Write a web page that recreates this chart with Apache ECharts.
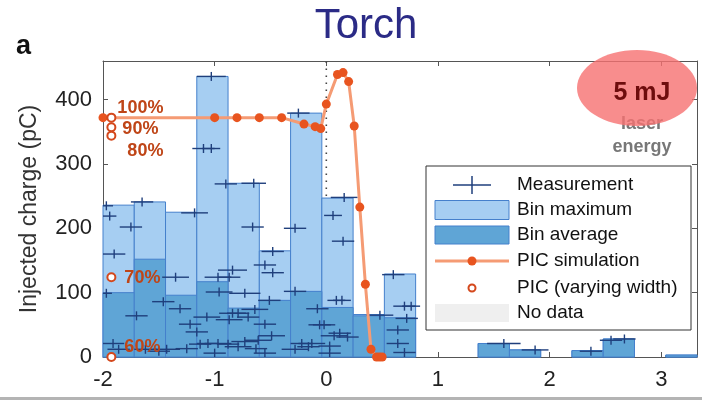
<!DOCTYPE html>
<html>
<head>
<meta charset="utf-8">
<script src="https://cdn.jsdelivr.net/npm/echarts@6/dist/echarts.min.js"></script>
<style>
  html, body { margin: 0; padding: 0; background: #fff; }
  #chart { width: 702px; height: 400px; }
</style>
</head>
<body>
<div id="chart"></div>
<script>
// Injection phase bins (width 0.28, starting at -2)
const binStart = -2;
const binWidth = 0.28;
const binMax = [236, 241, 225, 436, 270, 165, 379, 247, 66, 129, null, null, 21, 11, null, 10, 28, null, 3];
const binAvg = [100, 152, 96, 117, 76, 88, 102, 77, 64, 61, null, null, 21, 11, null, 10, 28, null, 3];

// Individual shots: centre x, charge, half width of the horizontal bar
const measX = [-1.97, -1.94, -1.75, -1.90, -1.97, -1.70, -1.91, -1.86, -1.65, -1.62, -1.50,
  -1.18, -1.35, -1.46, -1.31, -1.22, -1.16, -1.13, -1.43, -1.25,
  -1.03, -1.10, -1.03, -0.90, -0.65, -0.25,
  -0.97, -0.87, -0.84, -0.96, -0.73, -1.07, -0.84, -0.79, -0.87, -0.70, -0.64,
  -0.66, -0.48, -0.55, -0.48, -0.51, -0.55, -0.49, -0.61, -0.73, -0.97, -1.06, -0.79, -0.63, -0.55, -1.00, -0.88,
  -0.28, -0.28, -0.08, -0.06, -0.13, -0.22, -0.28, -0.16,
  0.06, 0.15, 0.16, 0.09, 0.14, -0.02, 0.12, 0.07, 0.03, 0.19, 0.03,
  0.48, 0.60, 0.70, 0.76, 0.72, 0.64, 0.64, 0.70,
  1.59, 1.87, 2.37, 2.55, 2.67];
const measY = [235, 219, 202, 160, 99, 64, 21, 12, 241, 12, 9,
  224, 124, 86, 75, 51, 39, 20, 12, 13,
  436, 324, 324, 269, 270, 379,
  124, 124, 135, 101, 99, 62, 68, 68, 58, 62, 74,
  202, 164, 143, 131, 88, 51, 33, 26, 24, 21, 21, 16, 13, 6, 6, 20,
  200, 102, 75, 50, 21, 21, 12, 16,
  220, 180, 248, 88, 88, 50, 37, 33, 17, 31, 6,
  65, 128, 79, 79, 60, 42, 21, 7,
  21, 11, 9, 26, 28];
const measHalf = [0.06, 0.06, 0.1, 0.1, 0.05, 0.1, 0.1, 0.1, 0.1, 0.1, 0.1,
  0.12, 0.12, 0.1, 0.1, 0.1, 0.1, 0.1, 0.12, 0.1,
  0.13, 0.1, 0.08, 0.1, 0.11, 0.1,
  0.12, 0.1, 0.13, 0.12, 0.14, 0.12, 0.12, 0.1, 0.12, 0.1, 0.12,
  0.1, 0.1, 0.1, 0.1, 0.1, 0.1, 0.12, 0.12, 0.12, 0.12, 0.1, 0.12, 0.1, 0.1, 0.1, 0.1,
  0.1, 0.1, 0.1, 0.1, 0.12, 0.1, 0.12, 0.1,
  0.08, 0.1, 0.12, 0.08, 0.08, 0.1, 0.1, 0.12, 0.1, 0.1, 0.1,
  0.12, 0.1, 0.1, 0.08, 0.1, 0.1, 0.1, 0.1,
  0.15, 0.12, 0.1, 0.1, 0.1];

// PIC simulation curve
const picX = [-2, -1, -0.8, -0.6, -0.4, -0.2, -0.1, -0.05, 0, 0.1, 0.15, 0.2, 0.25, 0.3, 0.35, 0.4, 0.45, 0.475, 0.5];
const picY = [372, 372, 372, 372, 372, 362, 358, 355, 393, 439, 442, 428, 359, 233, 113, 12, 0, 0, 0];

// PIC runs with varying laser spot width
const widthX = [-1.925, -1.925, -1.925, -1.925, -1.925];
const widthY = [372, 357, 344, 124, 0];
const widthLabels = ['100%', '90%', '80%', '70%', '60%'];
const widthLabelOffsets = [[1, -10], [6, 2], [11, 15], [8, 1], [8, -10]];

const xTicks = [-2, -1, 0, 1, 2, 3];
const yTicks = [0, 100, 200, 300, 400];

const FONT = '"Liberation Sans", Arial, Helvetica, sans-serif';
const LIGHT = '#a6cef2';
const DARK = '#5fa5d6';
const EDGE = '#4580cc';
const CROSS = '#1f3f7c';
const SIM_LINE = '#f59b74';
const SIM_DOT = '#e8541f';
const WIDTH_RED = '#d4481c';
const LABEL_RED = '#bf4517';

function binData(values) {
  const out = [];
  values.forEach((v, i) => {
    if (v != null) out.push([binStart + i * binWidth, binStart + (i + 1) * binWidth, v]);
  });
  return out;
}

function barRenderer(fill) {
  return function (params, api) {
    const p0 = api.coord([api.value(0), api.value(2)]);
    const p1 = api.coord([api.value(1), 0]);
    return {
      type: 'rect',
      shape: { x: p0[0], y: p0[1], width: p1[0] - p0[0], height: p1[1] - p0[1] },
      style: { fill: fill, stroke: EDGE, lineWidth: 1 }
    };
  };
}

const measData = measX.map((x, i) => [x, measY[i], measHalf[i]]);

function crossRenderer(params, api) {
  const x = api.value(0), y = api.value(1), h = api.value(2);
  const c = api.coord([x, y]);
  const a = api.coord([x - h, y]);
  const b = api.coord([x + h, y]);
  return {
    type: 'group',
    children: [
      { type: 'line', shape: { x1: a[0], y1: c[1], x2: b[0], y2: c[1] }, style: { stroke: CROSS, lineWidth: 1.4 } },
      { type: 'line', shape: { x1: c[0], y1: c[1] - 4.5, x2: c[0], y2: c[1] + 4.5 }, style: { stroke: CROSS, lineWidth: 1.4 } }
    ]
  };
}

const axisLineStyle = { color: '#555', width: 1 };

// Legend block
const LG = { left: 426, top: 166, right: 691, bottom: 330, textX: 517, symX: 435, symW: 74 };
const legendRows = [185, 210, 235, 261, 288, 313];
const legendNames = ['Measurement', 'Bin maximum', 'Bin average', 'PIC simulation', 'PIC (varying width)', 'No data'];
const legendGraphics = [
  { type: 'rect', shape: { x: LG.left, y: LG.top, width: LG.right - LG.left, height: LG.bottom - LG.top },
    style: { fill: '#fff', stroke: '#333', lineWidth: 1 }, z: 100 },
  { type: 'line', shape: { x1: 453, y1: legendRows[0], x2: 491, y2: legendRows[0] }, style: { stroke: CROSS, lineWidth: 1.5 }, z: 101 },
  { type: 'line', shape: { x1: 472, y1: legendRows[0] - 9, x2: 472, y2: legendRows[0] + 9 }, style: { stroke: CROSS, lineWidth: 1.5 }, z: 101 },
  { type: 'rect', shape: { x: LG.symX, y: legendRows[1] - 9.5, width: LG.symW, height: 19 }, style: { fill: LIGHT, stroke: EDGE, lineWidth: 1 }, z: 101 },
  { type: 'rect', shape: { x: LG.symX, y: legendRows[2] - 9, width: LG.symW, height: 18 }, style: { fill: DARK, stroke: EDGE, lineWidth: 1 }, z: 101 },
  { type: 'line', shape: { x1: LG.symX, y1: legendRows[3], x2: LG.symX + LG.symW, y2: legendRows[3] }, style: { stroke: SIM_LINE, lineWidth: 3 }, z: 101 },
  { type: 'circle', shape: { cx: 472, cy: legendRows[3], r: 4.5 }, style: { fill: SIM_DOT }, z: 102 },
  { type: 'circle', shape: { cx: 472, cy: legendRows[4], r: 3.5 }, style: { fill: '#fff', stroke: WIDTH_RED, lineWidth: 2 }, z: 101 },
  { type: 'rect', shape: { x: LG.symX, y: legendRows[5] - 9, width: LG.symW, height: 18 }, style: { fill: '#efefef' }, z: 101 }
];
legendNames.forEach((name, i) => {
  legendGraphics.push({
    type: 'text', x: LG.textX, y: legendRows[i], z: 102,
    style: { text: name, fill: '#111', font: '19px ' + FONT, verticalAlign: 'middle' }
  });
});

const chart = echarts.init(document.getElementById('chart'), null, { renderer: 'canvas' });

function frameAxis(extra) {
  return Object.assign({
    type: 'value',
    axisLine: { show: true, onZero: false, lineStyle: axisLineStyle },
    splitLine: { show: false }
  }, extra);
}

chart.setOption({
  animation: false,
  backgroundColor: '#fff',
  grid: { left: 103, right: 5, top: 61, bottom: 43 },
  xAxis: [
    frameAxis({
      min: -2, max: 3.32, interval: 1, position: 'bottom',
      axisTick: { show: true, inside: true, length: 5, lineStyle: axisLineStyle, customValues: xTicks },
      axisLabel: { margin: 12, color: '#222', fontSize: 22, fontFamily: FONT,
        customValues: xTicks,
        formatter: v => Number.isInteger(v) ? String(v) : '' }
    }),
    frameAxis({
      min: -2, max: 3.32, interval: 1, position: 'top',
      axisTick: { show: true, inside: true, length: 5, lineStyle: axisLineStyle, customValues: xTicks },
      axisLabel: { show: false }
    })
  ],
  yAxis: [
    frameAxis({
      min: 0, max: 460, interval: 100, position: 'left',
      name: 'Injected charge (pC)', nameLocation: 'middle', nameGap: 62, nameRotate: 90,
      nameTextStyle: { fontSize: 23, color: '#333', fontFamily: FONT },
      axisTick: { show: true, inside: true, length: 5, lineStyle: axisLineStyle, customValues: yTicks },
      axisLabel: { margin: 11, color: '#222', fontSize: 22, fontFamily: FONT,
        customValues: yTicks,
        formatter: v => (v % 100 === 0) ? String(v) : '' }
    }),
    frameAxis({
      min: 0, max: 460, interval: 100, position: 'right',
      axisTick: { show: true, inside: true, length: 5, lineStyle: axisLineStyle, customValues: yTicks },
      axisLabel: { show: false }
    })
  ],
  series: [
    {
      // dotted reference line at zero delay
      type: 'line', data: [[0, 0], [0, 460]], symbol: 'none', z: 1, silent: true,
      lineStyle: { color: '#444', width: 1.6, type: [1.6, 5.4] }
    },
    {
      type: 'custom', name: 'Bin maximum', data: binData(binMax), z: 2,
      encode: { x: [0, 1], y: 2 }, renderItem: barRenderer(LIGHT)
    },
    {
      type: 'custom', name: 'Bin average', data: binData(binAvg), z: 3,
      encode: { x: [0, 1], y: 2 }, renderItem: barRenderer(DARK)
    },
    {
      type: 'custom', name: 'Measurement', data: measData, z: 4, clip: true,
      encode: { x: 0, y: 1 }, renderItem: crossRenderer
    },
    {
      type: 'line', name: 'PIC simulation', z: 5,
      data: picX.map((x, i) => [x, picY[i]]),
      symbol: 'circle', symbolSize: 9, showAllSymbol: true,
      itemStyle: { color: SIM_DOT },
      lineStyle: { color: SIM_LINE, width: 3 }
    },
    {
      type: 'scatter', name: 'PIC (varying width)', z: 6, clip: false,
      symbol: 'emptyCircle', symbolSize: 8,
      itemStyle: { color: WIDTH_RED, borderColor: WIDTH_RED, borderWidth: 2, opacity: 1 },
      data: widthX.map((x, i) => ({
        value: [x, widthY[i]],
        label: { offset: widthLabelOffsets[i] }
      })),
      label: {
        show: true, position: 'right', distance: 0, opacity: 1,
        formatter: p => widthLabels[p.dataIndex],
        color: LABEL_RED, fontSize: 18, fontWeight: 'bold', fontFamily: FONT
      }
    }
  ],
  graphic: [
    { type: 'text', x: 366, y: 26, style: { text: 'Torch', fill: '#2b2b86', font: '42px ' + FONT, align: 'center', verticalAlign: 'middle' } },
    { type: 'text', x: 16, y: 47, style: { text: 'a', fill: '#111', font: 'bold 27px ' + FONT, verticalAlign: 'middle' } },
    { type: 'text', x: 642, y: 124, z: 50, style: { text: 'laser', fill: '#777', font: 'bold 18px ' + FONT, align: 'center', verticalAlign: 'middle' } },
    { type: 'text', x: 642, y: 147, z: 50, style: { text: 'energy', fill: '#777', font: 'bold 18px ' + FONT, align: 'center', verticalAlign: 'middle' } },
    { type: 'ellipse', shape: { cx: 637, cy: 88, rx: 60, ry: 38 }, z: 51, style: { fill: 'rgba(246,112,112,0.8)' } },
    { type: 'text', x: 642, y: 93, z: 52, style: { text: '5 mJ', fill: '#6e0d0d', font: 'bold 25px ' + FONT, align: 'center', verticalAlign: 'middle' } },
    { type: 'rect', shape: { x: 0, y: 397, width: 702, height: 3 }, style: { fill: '#b4b4b4' } }
  ].concat(legendGraphics)
});
</script>
</body>
</html>
